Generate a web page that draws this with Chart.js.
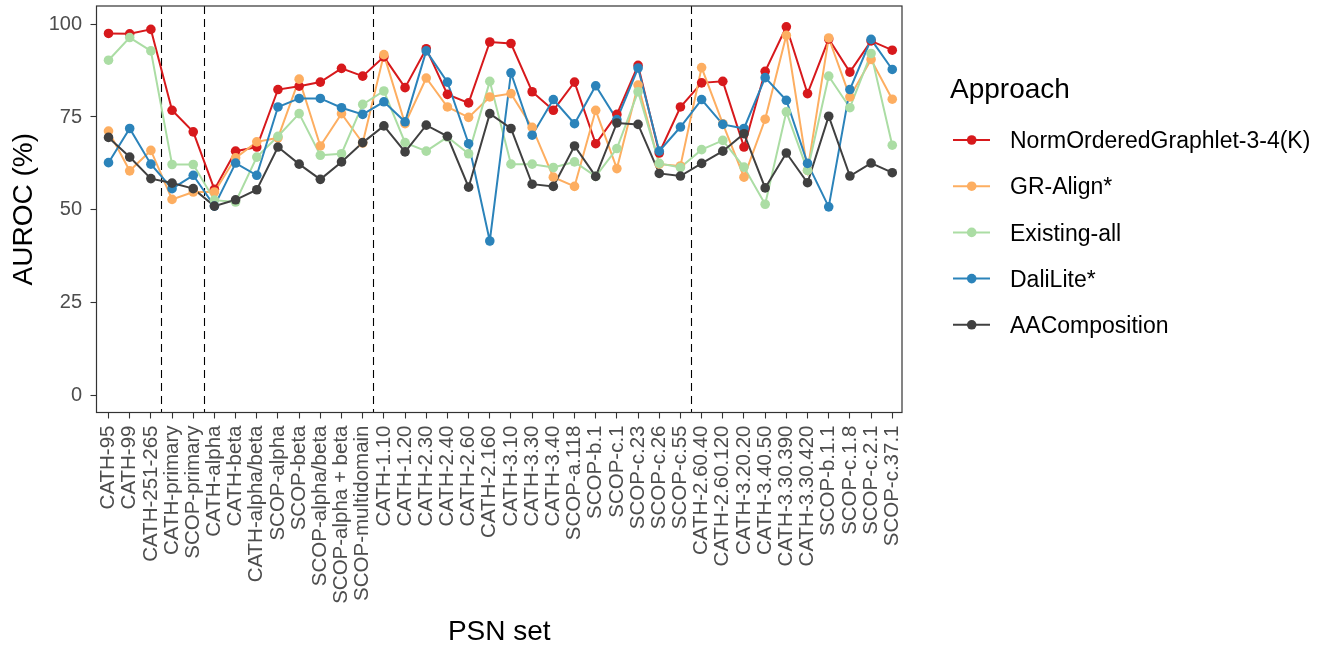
<!DOCTYPE html>
<html>
<head>
<meta charset="utf-8">
<script src="https://cdn.jsdelivr.net/npm/chart.js@4.4.1/dist/chart.umd.min.js"></script>
<style>
  html, body { margin: 0; padding: 0; background: #ffffff; overflow: hidden; }
  canvas { display: block; }
</style>
</head>
<body>
<canvas id="c" width="1326" height="649"></canvas>
<script>
const categories = [
  "CATH-95", "CATH-99", "CATH-251-265", "CATH-primary", "SCOP-primary",
  "CATH-alpha", "CATH-beta", "CATH-alpha/beta", "SCOP-alpha", "SCOP-beta",
  "SCOP-alpha/beta", "SCOP-alpha + beta", "SCOP-multidomain",
  "CATH-1.10", "CATH-1.20", "CATH-2.30", "CATH-2.40", "CATH-2.60", "CATH-2.160",
  "CATH-3.10", "CATH-3.30", "CATH-3.40", "SCOP-a.118", "SCOP-b.1", "SCOP-c.1",
  "SCOP-c.23", "SCOP-c.26", "SCOP-c.55",
  "CATH-2.60.40", "CATH-2.60.120", "CATH-3.20.20", "CATH-3.40.50", "CATH-3.30.390",
  "CATH-3.30.420", "SCOP-b.1.1", "SCOP-c.1.8", "SCOP-c.2.1", "SCOP-c.37.1"
];

// boundaries between category groups (dashed separators)
const groupBreaks = [2.5, 4.5, 12.5, 27.5];

const yTicks = [0, 25, 50, 75, 100];

const seriesNames = ["NormOrderedGraphlet-3-4(K)", "GR-Align*", "Existing-all", "DaliLite*", "AAComposition"];
const seriesColors = ["#D7191C", "#FDAE61", "#ABDDA4", "#2B83BA", "#404040"];

const normOrderedGraphlet = [
  97.5, 97.4, 98.6, 76.8, 71.0, 55.5, 65.8, 66.9, 82.4, 83.3,
  84.4, 88.1, 86.0, 91.2, 82.9, 93.4, 81.1, 78.8, 95.2, 94.8,
  81.8, 76.8, 84.4, 67.8, 75.7, 88.9, 65.3, 77.7, 84.2, 84.6,
  66.9, 87.3, 99.3, 81.3, 96.0, 87.1, 95.5, 93.0
];
const grAlign = [
  71.2, 60.5, 66.0, 52.8, 54.8, 54.8, 64.0, 68.3, 69.4, 85.2,
  67.2, 75.9, 68.0, 91.8, 73.2, 85.5, 77.7, 74.9, 80.4, 81.3,
  72.2, 58.8, 56.3, 76.8, 61.1, 83.6, 62.3, 61.8, 88.3, 73.2,
  58.8, 74.4, 97.0, 60.6, 96.3, 80.4, 90.5, 79.8
];
const existingAll = [
  90.3, 96.4, 92.8, 62.2, 62.2, 52.6, 52.1, 64.2, 69.8, 75.9,
  64.7, 65.1, 78.4, 82.0, 68.1, 65.8, 69.6, 65.1, 84.6, 62.3,
  62.3, 61.4, 62.9, 59.0, 66.5, 81.8, 62.5, 61.4, 66.2, 68.7,
  61.5, 51.5, 76.4, 60.6, 86.0, 77.5, 92.1, 67.4
];
const daliLite = [
  62.7, 71.9, 62.3, 55.7, 59.3, 51.0, 62.6, 59.3, 77.7, 80.0,
  80.0, 77.5, 75.7, 79.1, 73.7, 92.8, 84.4, 67.8, 41.6, 86.9,
  70.1, 79.7, 73.2, 83.4, 74.3, 88.2, 65.8, 72.3, 79.7, 73.0,
  71.9, 85.6, 79.5, 62.5, 50.8, 82.4, 95.9, 87.8
];
const aaComposition = [
  69.5, 64.2, 58.4, 57.2, 55.7, 51.0, 52.7, 55.4, 66.9, 62.3,
  58.2, 62.9, 68.1, 72.6, 65.6, 72.8, 69.8, 56.1, 75.9, 71.9,
  56.9, 56.3, 67.2, 59.0, 73.4, 73.0, 59.8, 59.1, 62.5, 65.8,
  70.5, 55.9, 65.3, 57.3, 75.2, 59.1, 62.6, 60.0
];

const seriesValues = [normOrderedGraphlet, grAlign, existingAll, daliLite, aaComposition];

const FONT = '"Liberation Sans", Arial, Helvetica, sans-serif';
Chart.defaults.font.family = FONT;

const toXY = vals => vals.map((v, i) => ({ x: i, y: v }));
const n = seriesNames.length;

// lines first (drawn underneath), then points on top, like ggplot layers
const lineSets = seriesValues.map((vals, i) => ({
  label: seriesNames[i] + " line",
  data: toXY(vals),
  borderColor: seriesColors[i],
  borderWidth: 2,
  pointRadius: 0,
  pointHoverRadius: 0,
  fill: false,
  tension: 0,
  order: 2 * n - i
}));
const pointSets = seriesValues.map((vals, i) => ({
  label: seriesNames[i],
  data: toXY(vals),
  showLine: false,
  pointRadius: 4.8,
  pointBorderWidth: 0,
  pointBackgroundColor: seriesColors[i],
  pointBorderColor: seriesColors[i],
  order: n - i
}));

const zeroPad = s => { s.paddingTop = 0; s.paddingBottom = 0; s.paddingLeft = 0; s.paddingRight = 0; };

const panelPlugin = {
  id: 'panel',
  beforeDatasetsDraw(chart) {
    const { ctx, chartArea: a, scales: { x } } = chart;
    ctx.save();
    ctx.strokeStyle = '#000000';
    ctx.lineWidth = 1.1;
    ctx.setLineDash([8, 5]);
    groupBreaks.forEach(b => {
      const px = Math.round(x.getPixelForValue(b)) + 0.5;
      ctx.beginPath();
      ctx.moveTo(px, a.top);
      ctx.lineTo(px, a.bottom);
      ctx.stroke();
    });
    ctx.restore();
  },
  afterDraw(chart) {
    const { ctx, chartArea: a } = chart;
    ctx.save();
    // panel border
    ctx.strokeStyle = '#333333';
    ctx.lineWidth = 1.2;
    ctx.strokeRect(a.left, a.top, a.right - a.left, a.bottom - a.top);

    // legend
    ctx.fillStyle = '#000000';
    ctx.textBaseline = 'alphabetic';
    ctx.textAlign = 'left';
    ctx.font = '28px ' + FONT;
    ctx.fillText('Approach', 950, 98);
    ctx.font = '23px ' + FONT;
    seriesNames.forEach((name, i) => {
      const cy = 140 + i * 46.2;
      ctx.strokeStyle = seriesColors[i];
      ctx.lineWidth = 2;
      ctx.beginPath();
      ctx.moveTo(953, cy);
      ctx.lineTo(990, cy);
      ctx.stroke();
      ctx.fillStyle = seriesColors[i];
      ctx.beginPath();
      ctx.arc(971.7, cy, 4.8, 0, Math.PI * 2);
      ctx.fill();
      ctx.fillStyle = '#000000';
      ctx.fillText(name, 1010, cy + 8.2);
    });
    ctx.restore();
  }
};

new Chart(document.getElementById('c'), {
  type: 'line',
  data: { datasets: [...lineSets, ...pointSets] },
  options: {
    responsive: false,
    animation: false,
    devicePixelRatio: 1,
    layout: { padding: { left: 3, right: 424, top: 6, bottom: 0 } },
    plugins: { legend: { display: false }, tooltip: { enabled: false } },
    scales: {
      x: {
        type: 'linear',
        min: -0.567,
        max: 37.46,
        afterBuildTicks: s => { s.ticks = categories.map((_, i) => ({ value: i })); },
        afterFit: s => { s.height = 236.5; zeroPad(s); },
        ticks: {
          autoSkip: false,
          minRotation: 90,
          maxRotation: 90,
          padding: 7,
          color: '#4D4D4D',
          font: { size: 20.5, family: FONT },
          callback: v => categories[v]
        },
        grid: { drawOnChartArea: false, drawTicks: true, tickLength: 6, color: '#333333', tickWidth: 1.1 },
        border: { display: false },
        title: {
          display: true,
          text: 'PSN set',
          color: '#000000',
          font: { size: 28, family: FONT },
          padding: { top: 4, bottom: 0 }
        }
      },
      y: {
        type: 'linear',
        min: -4.6,
        max: 104.9,
        afterBuildTicks: s => { s.ticks = yTicks.map(v => ({ value: v })); },
        afterFit: s => { s.width = 93.5; zeroPad(s); },
        ticks: {
          padding: 8.5,
          color: '#4D4D4D',
          font: { size: 20, family: FONT }
        },
        grid: { drawOnChartArea: false, drawTicks: true, tickLength: 6, color: '#333333', tickWidth: 1.1 },
        border: { display: false },
        title: {
          display: true,
          text: 'AUROC (%)',
          color: '#000000',
          font: { size: 28, family: FONT },
          padding: { top: 4, bottom: 4 }
        }
      }
    }
  },
  plugins: [panelPlugin]
});
</script>
</body>
</html>
